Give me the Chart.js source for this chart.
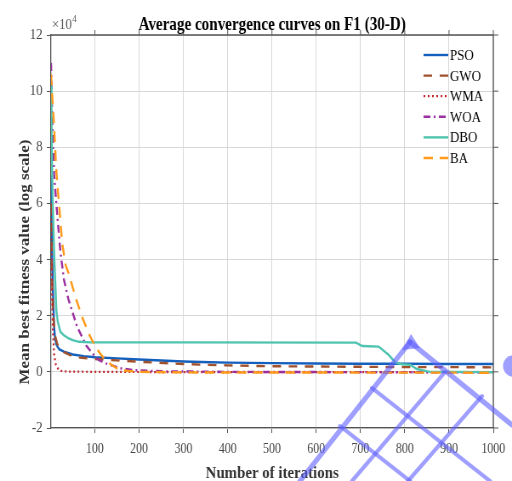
<!DOCTYPE html>
<html><head><meta charset="utf-8">
<script src="https://cdn.jsdelivr.net/npm/chart.js@4/dist/chart.umd.min.js"></script>
<style>
html,body{margin:0;padding:0;overflow:hidden;background:#fff}
#wrap{width:602px;height:481px;transform:scaleX(0.8504983);transform-origin:0 0}
canvas{display:block}
</style>
</head><body>
<div id="wrap"><canvas id="c" width="602" height="481" style="width:602px;height:481px"></canvas></div>
<script>
// Values are in units of 10^4 (axis multiplier shown as x10^4)
const xTickValues = [100,200,300,400,500,600,700,800,900,1000];
const yTickValues = [-2,0,2,4,6,8,10,12];
const seriesNames = ['PSO','GWO','WMA','WOA','DBO','BA'];

const psoIter = [1,3,5,8,10,13,16,20,30,50,75,100,150,200,300,360,400,500,600,700,800,900,1000];
const psoVal  = [7.0,4.5,3.0,1.6,1.2,0.98,0.88,0.8,0.72,0.62,0.56,0.52,0.48,0.44,0.37,0.34,0.33,0.31,0.30,0.29,0.29,0.28,0.28];

const gwoIter = [1,3,6,10,15,20,30,50,70,100,150,200,300,350,400,500,600,700,800,900,1000];
const gwoVal  = [6.0,3.5,2.0,1.3,1.0,0.85,0.7,0.55,0.5,0.46,0.41,0.36,0.28,0.25,0.23,0.2,0.19,0.18,0.17,0.17,0.16];

const wmaIter = [1,2,3,5,8,12,18,25,40,100,300,1000];
const wmaVal  = [6.0,4.2,3.0,1.5,0.6,0.25,0.08,0.03,0.01,0.0,-0.01,-0.01];

const woaIter = [1,3,5,8,12,16,22,30,40,52,60,71,80,94,108,125,140,160,190,250,400,1000];
const woaVal  = [11.0,9.5,8.3,7.0,6.2,5.4,4.3,3.3,2.6,2.0,1.6,1.25,0.95,0.66,0.43,0.3,0.22,0.12,0.06,0.02,0.0,-0.02];

const dboIter = [1,2,3,5,7,9,11,13,16,22,30,41,50,64,90,300,690,704,741,764,779,794,813,827,854,1000];
const dboVal  = [10.2,9.0,7.5,6.0,4.8,3.8,3.0,2.2,1.8,1.43,1.3,1.19,1.13,1.07,1.05,1.05,1.04,0.92,0.9,0.6,0.33,0.27,0.25,0.1,0.01,-0.01];

const baIter = [1,3,5,7,10,12,15,19,26,34,41,56,71,86,101,112,120,135,150,165,200,300,1000];
const baVal  = [10.6,10.0,9.5,9.0,8.1,7.4,6.7,6.0,4.6,3.8,3.5,2.67,1.96,1.37,0.9,0.65,0.5,0.28,0.12,0.05,0.0,-0.02,-0.03];

const K = 512/602;
const FONT = '"Liberation Serif","Times New Roman",serif';

function pts(xs, ys){ return xs.map((x,i)=>({x:x, y:ys[i]})); }

const styles = [
  {color:'#1560bd', dash:[], width:2.4},
  {color:'#a0522d', dash:[10,9], width:2.4},
  {color:'#c0272d', dash:[2,3], width:2.2},
  {color:'#9b30a0', dash:[8,4,2,4], width:2.4},
  {color:'#4fc4b0', dash:[], width:2.4},
  {color:'#ff9a1a', dash:[11,8], width:2.4}
];
const seriesData = [pts(psoIter,psoVal),pts(gwoIter,gwoVal),pts(wmaIter,wmaVal),pts(woaIter,woaVal),pts(dboIter,dboVal),pts(baIter,baVal)];

const datasets = seriesNames.map((n,i)=>({
  label:n, data:seriesData[i], borderColor:styles[i].color, backgroundColor:styles[i].color,
  borderDash:styles[i].dash, borderWidth:styles[i].width, pointRadius:0, tension:0, fill:false,
  order: seriesNames.length - i
}));

const decor = {
  id:'decor',
  afterDatasetsDraw(chart){
    const ctx = chart.ctx, a = chart.chartArea;
    const xs = chart.scales.x, ys = chart.scales.y;
    ctx.save();
    ctx.strokeStyle = '#555'; ctx.lineWidth = 1.3;
    ctx.beginPath();
    ctx.moveTo(a.left, a.top); ctx.lineTo(a.right, a.top); ctx.lineTo(a.right, a.bottom);
    ctx.stroke();
    ctx.lineWidth = 1;
    ctx.beginPath();
    xTickValues.forEach(v=>{ const px = xs.getPixelForValue(v); ctx.moveTo(px, a.top); ctx.lineTo(px, a.top-5); });
    yTickValues.forEach(v=>{ const py = ys.getPixelForValue(v); ctx.moveTo(a.right, py); ctx.lineTo(a.right+6, py); });
    ctx.stroke();
    ctx.restore();
  },
  afterDraw(chart){
    const ctx = chart.ctx, a = chart.chartArea;
    const cx = (a.left + a.right)/2;
    ctx.save();
    // title
    ctx.fillStyle = '#000';
    ctx.font = 'bold 17.8px ' + FONT;
    ctx.textAlign = 'center'; ctx.textBaseline = 'alphabetic';
    ctx.fillText('Average convergence curves on F1 (30-D)', cx, 30);
    // multiplier
    ctx.fillStyle = '#555';
    ctx.textAlign = 'left';
    ctx.font = '15px ' + FONT;
    ctx.fillText('\u00d710', 61, 29);
    const w = ctx.measureText('\u00d710').width;
    ctx.font = '10px ' + FONT;
    ctx.fillText('4', 61 + w + 0.5, 22);
    // x label
    ctx.fillStyle = '#333';
    ctx.font = 'bold 17.5px ' + FONT;
    ctx.textAlign = 'center';
    ctx.fillText('Number of iterations', cx, 478);
    // y label
    ctx.save();
    ctx.translate(30, 262);
    ctx.rotate(-Math.PI/2);
    ctx.font = 'bold 17px ' + FONT;
    ctx.textBaseline = 'middle';
    ctx.fillText('Mean best fitness value (log scale)', 0, 0);
    ctx.restore();
    // legend
    const rowY = [55,75.6,96.2,116.8,137.4,158];
    chart.data.datasets.forEach((d,i)=>{
      const y = rowY[i];
      ctx.save();
      ctx.strokeStyle = d.borderColor; ctx.lineWidth = d.borderWidth;
      ctx.setLineDash(d.borderDash || []);
      ctx.beginPath(); ctx.moveTo(498, y); ctx.lineTo(527, y); ctx.stroke();
      ctx.restore();
      ctx.fillStyle = '#000';
      ctx.font = '15.3px ' + FONT;
      ctx.textAlign = 'left'; ctx.textBaseline = 'middle';
      ctx.fillText(d.label, 529, y + 1);
    });
    // watermark (decorative), drawn in reference pixel space
    ctx.save();
    ctx.scale(1/K, 1);
    ctx.strokeStyle = 'rgba(95,95,255,0.6)';
    ctx.fillStyle = 'rgba(95,95,255,0.6)';
    ctx.lineCap = 'round';
    const segs = [
      [300,481,410,342,5],[352,481,445,372,4],[408,481,482,396,4],
      [410,342,512,425,5],[372,388,490,481,4],[340,426,410,481,4]
    ];
    segs.forEach(s=>{ ctx.lineWidth = s[4]; ctx.beginPath(); ctx.moveTo(s[0],s[1]); ctx.lineTo(s[2],s[3]); ctx.stroke(); });
    ctx.beginPath(); ctx.moveTo(402,350); ctx.lineTo(411,334); ctx.lineTo(420,348); ctx.closePath(); ctx.fill();
    ctx.beginPath(); ctx.arc(514,366,11,0,Math.PI*2); ctx.fill();
    ctx.restore();
    ctx.restore();
  }
};

new Chart(document.getElementById('c').getContext('2d'), {
  type:'line',
  data:{datasets:datasets},
  options:{
    responsive:false, animation:false, events:[],
    layout:{padding:{left:0,right:19,top:35,bottom:0}},
    plugins:{legend:{display:false}, title:{display:false}, tooltip:{enabled:false}},
    scales:{
      x:{
        type:'linear', min:1, max:1000,
        afterBuildTicks:s=>{ s.ticks = xTickValues.map(v=>({value:v})); },
        afterFit:s=>{ s.height = 53; },
        grid:{color:'#d8d8d8', lineWidth:1, tickLength:5, tickColor:'#555', drawTicks:true},
        border:{color:'#555', width:1.3},
        ticks:{font:{family:FONT, size:14}, color:'#444', padding:8, maxRotation:0, autoSkip:false, callback:v=>String(v)}
      },
      y:{
        type:'linear', min:-2, max:12,
        afterBuildTicks:s=>{ s.ticks = yTickValues.map(v=>({value:v})); },
        afterFit:s=>{ s.width = 60; },
        grid:{color:'#d8d8d8', lineWidth:1, tickLength:5, tickColor:'#555', drawTicks:true},
        border:{color:'#555', width:1.3},
        ticks:{font:{family:FONT, size:15}, color:'#444', padding:5, callback:v=>String(v)}
      }
    }
  },
  plugins:[decor]
});
</script>
</body></html>
